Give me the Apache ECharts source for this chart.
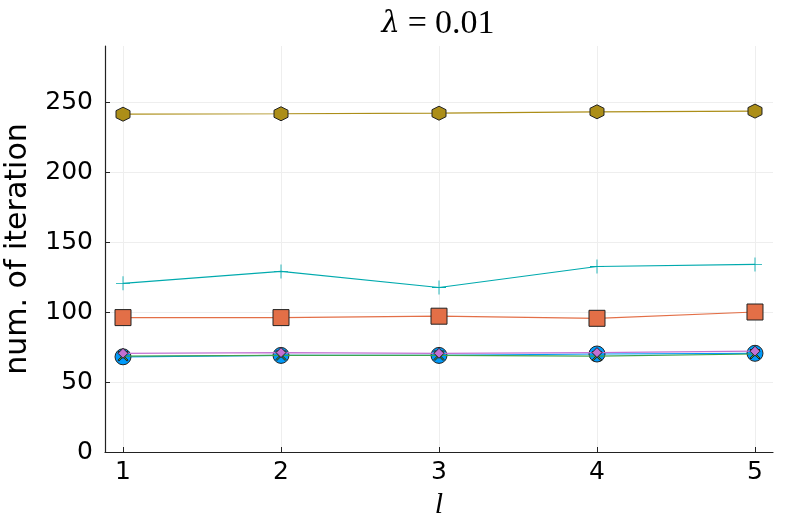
<!DOCTYPE html>
<html>
<head>
<meta charset="utf-8">
<script src="https://cdn.jsdelivr.net/npm/echarts@6/dist/echarts.min.js"></script>
<style>
html, body { margin: 0; padding: 0; background: #fff; }
#main { width: 789px; height: 526px; }
</style>
</head>
<body>
<div id="main"></div>
<script>
var ls = [1, 2, 3, 4, 5];
var yTicks = [0, 50, 100, 150, 200, 250];
var blueVals = [68, 69, 69, 70, 70.5];
var orangeVals = [96, 96, 97, 95.5, 100];
var greenVals = [68.5, 69, 69, 68.5, 70];
var purpleVals = [70.5, 71, 70.5, 71, 72];
var goldVals = [241.3, 241.6, 242, 243, 243.5];
var tealVals = [120.5, 129, 117.5, 132.5, 134];

var hexagon = 'path://M0,-1 L0.866,-0.5 L0.866,0.5 L0,1 L-0.866,0.5 L-0.866,-0.5 Z';
var plus = 'path://M-1,-0.06 L-0.06,-0.06 L-0.06,-1 L0.06,-1 L0.06,-0.06 L1,-0.06 L1,0.06 L0.06,0.06 L0.06,1 L-0.06,1 L-0.06,0.06 L-1,0.06 Z';
var xcross = 'path://M-1,-0.8 L-0.8,-1 L0,-0.2 L0.8,-1 L1,-0.8 L0.2,0 L1,0.8 L0.8,1 L0,0.2 L-0.8,1 L-1,0.8 L-0.2,0 Z';

function pairs(vals) {
    return vals.map(function (v, i) { return [ls[i], v]; });
}

function line(name, vals, color, symbol, size, z) {
    return {
        name: name,
        type: 'line',
        data: pairs(vals),
        symbol: symbol,
        symbolSize: size,
        z: z,
        lineStyle: { color: color, width: 1.2 },
        itemStyle: { color: color, borderColor: '#222', borderWidth: 1 }
    };
}

var myChart = echarts.init(document.getElementById('main'));
var option = {
    animation: false,
    title: {
        text: '{i|λ}{s|=}{n|0.01}',
        left: 433,
        textAlign: 'center',
        top: 2,
        textStyle: {
            fontWeight: 'normal',
            rich: {
                i: { fontFamily: 'DejaVu Serif', fontStyle: 'italic', fontWeight: 'normal', fontSize: 29, color: '#000' },
                s: { fontFamily: 'Liberation Serif', fontWeight: 'normal', fontSize: 34, color: '#000', padding: [0, 8, 0, 8] },
                n: { fontFamily: 'Liberation Serif', fontWeight: 'normal', fontSize: 34, color: '#000' }
            }
        }
    },
    grid: { left: 105, right: 16, top: 46, bottom: 74, outerBoundsMode: 'none', containLabel: false },
    xAxis: {
        type: 'value',
        min: 0.886,
        max: 5.114,
        interval: 1,
        name: 'l',
        nameLocation: 'middle',
        nameGap: 38,
        nameTextStyle: { fontFamily: 'Liberation Serif', fontStyle: 'italic', fontSize: 30, color: '#000' },
        axisLine: { onZero: false, lineStyle: { color: '#222', width: 1.2 } },
        axisTick: { show: true, inside: true, length: 5, lineStyle: { color: '#222' }, customValues: ls },
        axisLabel: { fontFamily: 'DejaVu Sans', fontSize: 25, color: '#000', margin: 8, customValues: ls },
        splitLine: { show: true, lineStyle: { color: '#eeeeee', width: 1 } }
    },
    yAxis: {
        type: 'value',
        min: 0,
        max: 290,
        interval: 50,
        name: 'num. of iteration',
        nameLocation: 'middle',
        nameGap: 72,
        nameTextStyle: { fontFamily: 'DejaVu Sans', fontSize: 30, color: '#000' },
        axisLine: { show: true, lineStyle: { color: '#222', width: 1.2 } },
        axisTick: { show: true, inside: true, length: 5, lineStyle: { color: '#222' }, customValues: yTicks },
        axisLabel: { fontFamily: 'DejaVu Sans', fontSize: 25, color: '#000', margin: 12, customValues: yTicks },
        splitLine: { show: true, lineStyle: { color: '#eeeeee', width: 1 } }
    },
    series: [
        line('y1', blueVals, '#009AFA', 'circle', 16, 2),
        line('y2', orangeVals, '#E36F47', 'rect', 16, 2),
        line('y3', greenVals, '#3EA44E', xcross, 10, 3),
        line('y4', purpleVals, '#C371D2', 'diamond', 10, 4),
        line('y5', goldVals, '#AC8E18', hexagon, 14, 2),
        {
            name: 'y6',
            type: 'line',
            data: pairs(tealVals),
            symbol: plus,
            symbolSize: 14,
            z: 2,
            lineStyle: { color: '#00AAAE', width: 1.2 },
            itemStyle: { color: '#00AAAE', borderWidth: 0 }
        }
    ]
};
myChart.setOption(option);
</script>
</body>
</html>
